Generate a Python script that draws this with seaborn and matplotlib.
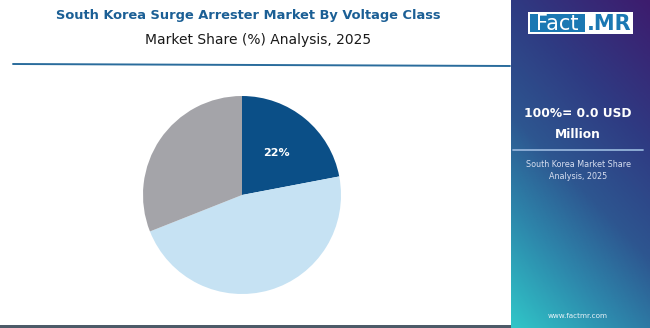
import numpy as np
import matplotlib
matplotlib.use("Agg")
import matplotlib.pyplot as plt
from matplotlib.colors import LinearSegmentedColormap
from matplotlib.patches import Rectangle
import seaborn as sns

# ---- data ----
categories = ["Segment A", "Segment B", "Segment C"]
shares = [22, 47, 31]
shown_labels = [True, False, False]
colors = ["#0b4f87", "#c6e2f3", "#a4a4a9"]

title = "South Korea Surge Arrester Market By Voltage Class"
subtitle = "Market Share (%) Analysis, 2025"
panel_value = "100%= 0.0 USD\nMillion"
panel_note = "South Korea Market Share\nAnalysis, 2025"
website = "www.factmr.com"

sns.set_theme(style="white")
plt.rcParams["font.family"] = ["DejaVu Sans"]

W, H = 650, 328
fig = plt.figure(figsize=(W / 100, H / 100), dpi=100)
fig.patch.set_facecolor("white")

def fx(x):
    return x / W

def fy(y):
    return 1 - y / H

# titles
fig.text(fx(248), fy(16), title, ha="center", va="center", fontsize=9.4,
         fontweight="bold", color="#1b5f95")
fig.text(fx(258), fy(40), subtitle, ha="center", va="center", fontsize=10,
         color="#1a1a1a")
fig.add_artist(plt.Line2D([fx(13), fx(510)], [fy(64), fy(66)], color="#2a6c9c",
                          lw=1.4, transform=fig.transFigure))
# bottom border
fig.add_artist(Rectangle((0, 0), fx(511), 3 / H, transform=fig.transFigure,
                         color="#4d5b68", lw=0))

# pie
cx, cy, r = 242, 195, 99
ax = fig.add_axes([fx(cx - r), fy(cy + r), 2 * r / W, 2 * r / H])
it = iter(range(len(shares)))

def fmt(p):
    i = next(it)
    return f"{shares[i]:.0f}%" if shown_labels[i] else ""

wedges, texts, autotexts = ax.pie(shares, colors=colors, startangle=90,
                                  counterclock=False, autopct=fmt,
                                  pctdistance=0.55,
                                  wedgeprops=dict(linewidth=0))
for t in autotexts:
    t.set_color("white")
    t.set_fontweight("bold")
    t.set_fontsize(8)
ax.set_xlim(-1, 1)
ax.set_ylim(-1, 1)
ax.set_aspect("equal")
ax.axis("off")

# right panel gradient
px0 = 511
pax = fig.add_axes([fx(px0), 0, (W - px0) / W, 1])
ny, nx = 200, 100
yy, xx = np.mgrid[0:1:ny * 1j, 0:1:nx * 1j]  # yy: 0 top -> 1 bottom
s = 0.8 * yy + 0.35 * (1 - xx)
s = (s - s.min()) / (s.max() - s.min())
cmap = LinearSegmentedColormap.from_list(
    "panel", [(0, "#3d1c6e"), (0.3, "#2f3a82"), (0.55, "#2d5690"),
              (0.75, "#2d86ab"), (1, "#30c6c8")])
pax.imshow(s, cmap=cmap, aspect="auto", extent=[0, 1, 0, 1], origin="upper")
pax.set_xlim(0, 1)
pax.set_ylim(0, 1)
pax.axis("off")

# logo
lx0, lx1, ly0, ly1 = 528, 633, 12, 34
fig.add_artist(Rectangle((fx(lx0), fy(ly1)), (lx1 - lx0) / W, (ly1 - ly0) / H,
                         transform=fig.transFigure, color="white", lw=0))
fig.add_artist(Rectangle((fx(lx0 + 2), fy(ly1 - 2)), (585 - lx0 - 2) / W,
                         (ly1 - ly0 - 4) / H, transform=fig.transFigure,
                         color="#1b78b3", lw=0))
fig.text(fx(557), fy(23.5), "Fact", ha="center", va="center", fontsize=15,
         color="white")
fig.text(fx(609), fy(23.5), ".MR", ha="center", va="center", fontsize=15,
         color="#1b78b3", fontweight="bold")

pcx = 578
fig.text(fx(pcx), fy(124), panel_value, ha="center", va="center", fontsize=8.8,
         fontweight="bold", color="white", linespacing=1.75)
fig.add_artist(plt.Line2D([fx(513), fx(643)], [fy(150), fy(150)],
                          color="#93b3da", lw=1.3, transform=fig.transFigure))
fig.text(fx(pcx), fy(170.5), panel_note, ha="center", va="center", fontsize=5.8,
         color="#d7def0", linespacing=1.5)
fig.text(fx(pcx), fy(316), website, ha="center", va="center", fontsize=5.2,
         color="#e8f2f8")

fig.savefig("out.png", dpi=100, facecolor="white")
